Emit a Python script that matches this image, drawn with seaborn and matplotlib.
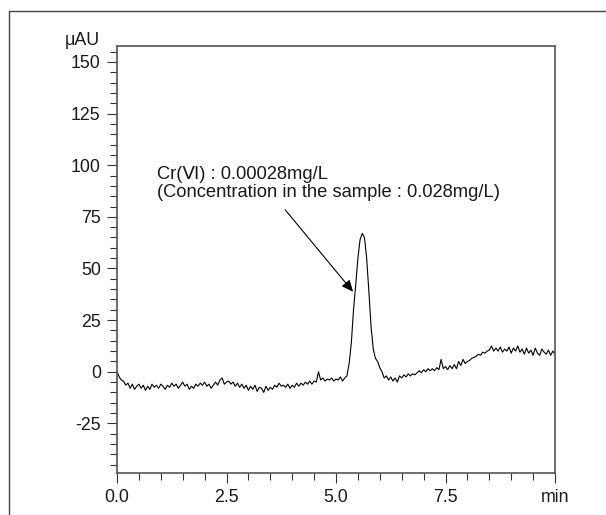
import numpy as np
import pandas as pd
import matplotlib
matplotlib.use("Agg")
import matplotlib.pyplot as plt
from matplotlib.lines import Line2D
from matplotlib.ticker import MultipleLocator
import seaborn as sns

# ---- data ----
time_step = 0.05  # min between samples
signal = [
    0, -2.5, -4, -4.5, -6.5, -5.5, -8, -6, -8.5, -7,
    -6, -8, -6.5, -9, -7, -8.5, -6, -7.5, -6.5, -8,
    -6, -7, -8.5, -6.5, -7.5, -5.5, -7, -6, -8, -6.5,
    -5, -7, -6, -8.5, -7, -8, -6, -7, -5.5, -6.5,
    -5, -7, -6, -8, -6.5, -5, -6.5, -4, -3, -6,
    -5, -4.5, -6, -5, -7, -5.5, -7.5, -6, -8, -6.5,
    -9, -7, -8.5, -6.5, -9.5, -7.5, -8, -10, -7, -9,
    -7.5, -8.5, -6.5, -7.5, -5.5, -7, -6.5, -7.5, -6, -8,
    -6.5, -7.5, -5.5, -7, -5.5, -6.5, -5, -6, -4.5, -6,
    -4.5, -5, 0, -4, -3, -4.5, -3.5, -4, -3, -4.5,
    -3.5, -4, -2.5, -4.5, -3, -2, 4, 14, 30, 42,
    55, 64, 67, 65, 55, 39, 22, 11, 6.5, 5,
    2, 0, -3, -2, -4, -2.5, -4.5, -3, -5, -2,
    -3, -1.5, -2.5, -1, -2, -1, -1.5, -0.5, 0.5, -0.5,
    1, 0, 1.5, 0.5, 1.5, 0.5, 2, 1, 6, 1.5,
    2.5, 1, 3, 1.5, 3.5, 1.5, 5, 3, 6, 4,
    5, 5.5, 6.5, 7, 7.5, 8.5, 8, 9.5, 9, 10,
    10.5, 12.5, 10, 11.5, 10, 12, 9.5, 11, 10, 12,
    9, 11.5, 10, 12.5, 9.5, 11, 8.5, 11.5, 9, 10.5,
    8, 11.5, 9, 8, 11, 9.5, 8.5, 10.5, 8, 10,
    8.5,
]
x_ticks = [0.0, 2.5, 5.0, 7.5, 10.0]
x_tick_labels = ["0.0", "2.5", "5.0", "7.5", "min"]
y_ticks = [-25, 0, 25, 50, 75, 100, 125, 150]
y_unit = "μAU"
peak_label = "Cr(Ⅵ) : 0.00028mg/L\n(Concentration in the sample : 0.028mg/L)"

time = np.arange(len(signal)) * time_step
df = pd.DataFrame({"time": time, "signal": signal})

sns.set_style("ticks")
plt.rcParams["font.family"] = ["Liberation Sans", "DejaVu Sans"]
plt.rcParams["axes.unicode_minus"] = False

fig = plt.figure(figsize=(6.06, 5.15), dpi=100)
ax = fig.add_axes([117 / 606, 42 / 515, 438 / 606, 427 / 515])

sns.lineplot(data=df, x="time", y="signal", ax=ax, color="black", linewidth=0.8)

ax.set_xlim(0, 10)
ax.set_ylim(-49, 157.7)
ax.set_xticks(x_ticks)
ax.set_xticklabels(x_tick_labels)
ax.set_yticks(y_ticks)
ax.xaxis.set_minor_locator(MultipleLocator(0.5))
ax.yaxis.set_minor_locator(MultipleLocator(5))
ax.tick_params(which="major", length=7.2, width=0.8, color="#333333",
               labelsize=12.8, pad=4.5, labelcolor="#1a1a1a")
ax.tick_params(which="minor", length=5, width=0.8, color="#333333")
ax.set_xlabel("")
ax.set_ylabel("")
for s in ax.spines.values():
    s.set_color("#555555")
    s.set_linewidth(1.2)

fig.text(100 / 606, 1 - 45 / 515, y_unit, ha="right", va="baseline",
         fontsize=12.8, color="#1a1a1a")

ax.annotate("", xy=(5.39, 38.7), xytext=(3.84, 78.4),
            arrowprops=dict(arrowstyle="-|>,head_length=0.5,head_width=0.22",
                            color="black", lw=0.8,
                            mutation_scale=14, shrinkA=0, shrinkB=0))
ax.text(0.91, 84.7, peak_label, ha="left", va="baseline", fontsize=13.2,
        color="#1a1a1a", linespacing=1.1)

# outer frame (top and left edges)
fig.add_artist(Line2D([9 / 606, 1.0], [1 - 11 / 515, 1 - 11 / 515],
                      transform=fig.transFigure, color="#444444", lw=1.0))
fig.add_artist(Line2D([9 / 606, 9 / 606], [0.0, 1 - 11 / 515],
                      transform=fig.transFigure, color="#444444", lw=1.0))

fig.savefig("out.png", dpi=100)
